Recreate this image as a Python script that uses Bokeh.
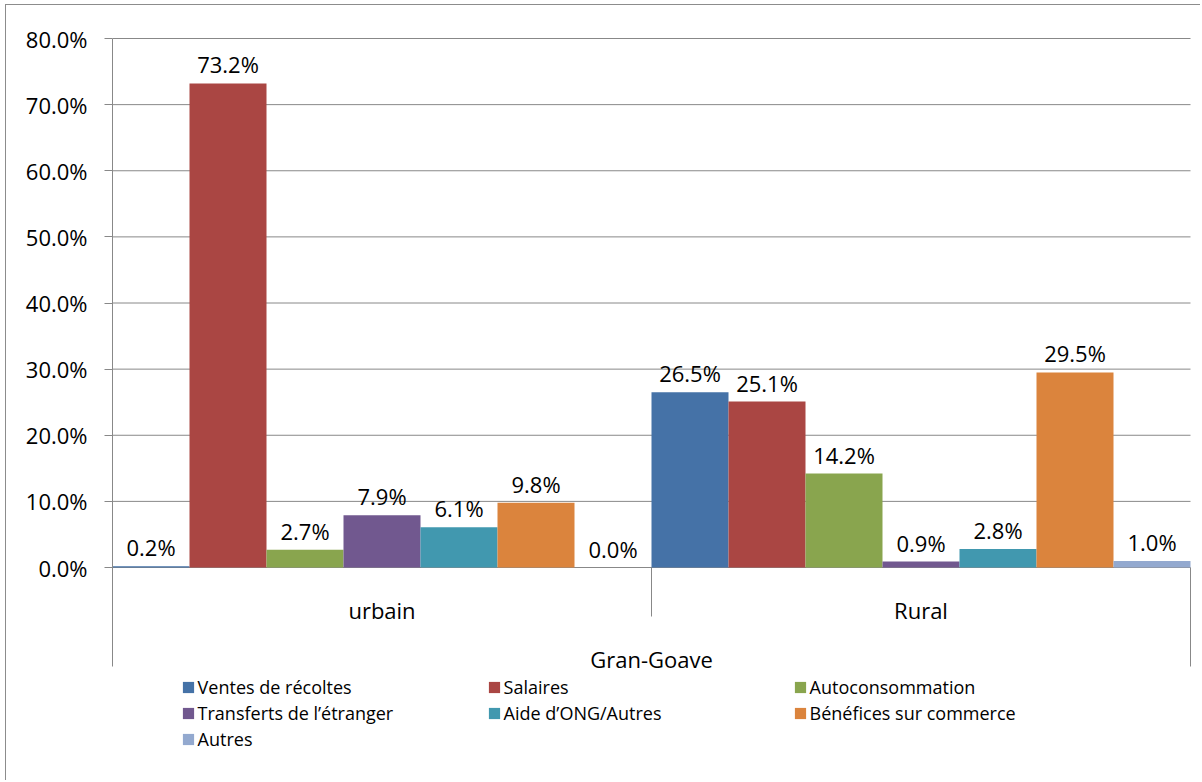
from bokeh.plotting import figure
from bokeh.models import (Range1d, LinearAxis, FixedTicker, PrintfTickFormatter,
                          ColumnDataSource, Legend, LegendItem)
from bokeh.core.properties import value
from bokeh.embed import file_html
from bokeh.resources import INLINE

# ---------------- data ----------------
groups = ["urbain", "Rural"]
outer_group = "Gran-Goave"
series = ["Ventes de récoltes", "Salaires", "Autoconsommation",
          "Transferts de l\u2019étranger", "Aide d\u2019ONG/Autres",
          "Bénéfices sur commerce", "Autres"]
urbain_values = [0.2, 73.2, 2.7, 7.9, 6.1, 9.8, 0.0]
rural_values = [26.5, 25.1, 14.2, 0.9, 2.8, 29.5, 1.0]
y_ticks = [0, 10, 20, 30, 40, 50, 60, 70, 80]
colors = ["#4572A7", "#AA4643", "#89A54E", "#71588F", "#4198AF", "#DB843D", "#93A9CF"]

# ---------------- layout ----------------
W, H = 1200, 780
FONT = "Open Sans"
GRID = "#888888"
n_s = len(series)
n_total = n_s * len(groups)
px_x = 77.0                 # px per bar slot
px_y = 529.0 / 80.0         # px per percent
frame_left, frame_top = 112, 28
frame_w = W - frame_left
frame_h = H - frame_top
y_end = y_ticks[-1] + 10 / px_y
y_start = y_end - frame_h / px_y
x_end = frame_w / px_x

p = figure(width=W, height=H, x_range=Range1d(0, x_end), y_range=Range1d(y_start, y_end),
           output_backend="svg", toolbar_location=None,
           x_axis_type=None, y_axis_type=None,
           min_border_left=frame_left, min_border_right=0,
           min_border_top=frame_top, min_border_bottom=0,
           outline_line_color=None, background_fill_color="white",
           border_fill_color=None,
           styles={"box-shadow": "inset 5px 4px 0 0 #ffffff, inset 6px 5px 0 0 #8c8c8c"})

# gridlines + category axis line (y=0)
p.segment(x0=[0] * len(y_ticks), x1=[n_total] * len(y_ticks), y0=y_ticks, y1=y_ticks,
          line_color=GRID, line_width=1)

# category separators
sep_short = 49 / px_y
sep_long = 99 / px_y
p.segment(x0=[n_s, n_total], x1=[n_s, n_total], y0=[0, 0], y1=[-sep_short, -sep_long],
          line_color=GRID, line_width=1)

yaxis = LinearAxis(ticker=FixedTicker(ticks=y_ticks),
                   formatter=PrintfTickFormatter(format="%.1f%%"),
                   bounds=(-sep_long, y_ticks[-1]),
                   axis_line_color=GRID, major_tick_line_color=GRID,
                   major_tick_in=0, major_tick_out=8, minor_tick_line_color=None,
                   major_label_standoff=17,
                   major_label_text_font=FONT, major_label_text_font_size="22px",
                   major_label_text_color="black")
p.add_layout(yaxis, "left")

renderers = []
for i, name in enumerate(series):
    vals = [urbain_values[i], rural_values[i]]
    xs = [g * n_s + i + 0.5 for g in range(len(groups))]
    src = ColumnDataSource(dict(x=xs, top=vals, label=[f"{v:.1f}%" for v in vals]))
    r = p.vbar(x="x", top="top", bottom=0, width=1.0, source=src,
               fill_color=colors[i], line_color=None)
    renderers.append(r)
    p.text(x="x", y="top", text="label", source=src, text_align="center",
           text_baseline="alphabetic", y_offset=-19,
           text_font=value(FONT), text_font_size=value("22px"), text_color="black")

# category labels
p.text(x=[(g + 0.5) * n_s for g in range(len(groups))], y=[0] * len(groups), text=groups,
       text_align="center", text_baseline="alphabetic", y_offset=42,
       text_font=value(FONT), text_font_size=value("22px"), text_color="black")
p.text(x=[n_total / 2], y=[0], text=[outer_group],
       text_align="center", text_baseline="alphabetic", y_offset=91,
       text_font=value(FONT), text_font_size=value("22px"), text_color="black")

legend = Legend(items=[LegendItem(label=s, renderers=[r]) for s, r in zip(series, renderers)],
                orientation="horizontal", ncols=3, location=(68.6, 29),
                glyph_width=14, glyph_height=14, label_standoff=3,
                label_width=287, label_height=22, spacing=2, padding=0, margin=0,
                border_line_color=None, background_fill_alpha=0,
                label_text_font=FONT, label_text_font_size="18px",
                label_text_color="black")
p.add_layout(legend)

open("out.html", "w").write(file_html(p, INLINE))
